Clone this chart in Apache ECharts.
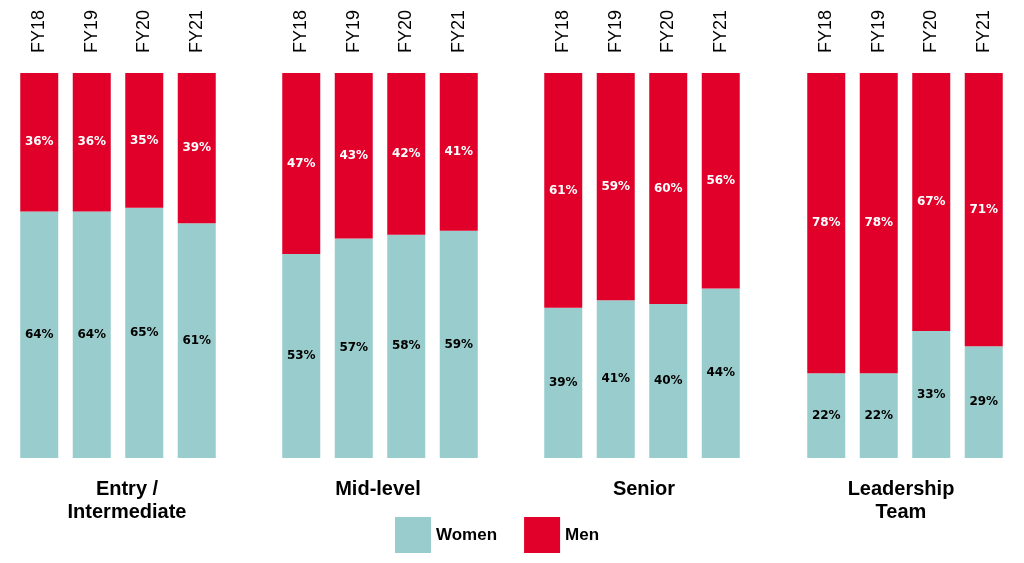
<!DOCTYPE html>
<html>
<head>
<meta charset="utf-8">
<script src="https://cdn.jsdelivr.net/npm/echarts@6/dist/echarts.min.js"></script>
<style>
  html, body { margin: 0; padding: 0; background: #fff; }
  #chart { width: 1024px; height: 563px; }
</style>
</head>
<body>
<div id="chart"></div>
<script>
var years = ['FY18', 'FY19', 'FY20', 'FY21'];
var groups = ['Entry /\nIntermediate', 'Mid-level', 'Senior', 'Leadership\nTeam'];

var womenEntry = [64, 64, 65, 61];
var menEntry = [36, 36, 35, 39];
var womenMid = [53, 57, 58, 59];
var menMid = [47, 43, 42, 41];
var womenSenior = [39, 41, 40, 44];
var menSenior = [61, 59, 60, 56];
var womenLead = [22, 22, 33, 29];
var menLead = [78, 78, 67, 71];

var womenData = [womenEntry, womenMid, womenSenior, womenLead];
var menData = [menEntry, menMid, menSenior, menLead];

var teal = '#99CCCC';
var red = '#E0002A';

var gridLefts = [13, 275, 537, 800];
var titleCenters = [122, 373, 639, 896];

var grids = [], xAxes = [], yAxes = [], series = [], titles = [];

for (var i = 0; i < 4; i++) {
    grids.push({ left: gridLefts[i], top: 73, width: 210, height: 385 });
    xAxes.push({
        type: 'category',
        gridIndex: i,
        position: 'top',
        data: years,
        axisLine: { show: false },
        axisTick: { show: false },
        axisLabel: {
            rotate: 90,
            margin: 20,
            color: '#000',
            fontSize: 18,
            fontFamily: 'Liberation Sans, Arial, sans-serif'
        }
    });
    yAxes.push({
        type: 'value',
        gridIndex: i,
        min: 0,
        max: 100,
        show: false,
        splitLine: { show: false }
    });
    series.push({
        name: 'Women',
        type: 'bar',
        stack: 'g' + i,
        xAxisIndex: i,
        yAxisIndex: i,
        barWidth: 38,
        data: womenData[i],
        itemStyle: { color: teal },
        label: {
            show: true,
            position: 'inside',
            formatter: '{c}%',
            color: '#000',
            fontSize: 12,
            fontWeight: 'bold',
            fontFamily: 'DejaVu Sans, Verdana, sans-serif'
        }
    });
    series.push({
        name: 'Men',
        type: 'bar',
        stack: 'g' + i,
        xAxisIndex: i,
        yAxisIndex: i,
        barWidth: 38,
        data: menData[i],
        itemStyle: { color: red },
        label: {
            show: true,
            position: 'inside',
            formatter: '{c}%',
            color: '#fff',
            fontSize: 12,
            fontWeight: 'bold',
            fontFamily: 'DejaVu Sans, Verdana, sans-serif'
        }
    });
    titles.push({
        text: groups[i],
        left: titleCenters[i],
        top: 473,
        textAlign: 'center',
        textStyle: {
            color: '#000',
            fontSize: 20,
            fontWeight: 'bold',
            lineHeight: 23,
            fontFamily: 'Liberation Sans, Arial, sans-serif'
        }
    });
}

var option = {
    animation: false,
    backgroundColor: '#fff',
    title: titles,
    legend: {
        data: ['Women', 'Men'],
        left: 390,
        top: 512,
        itemWidth: 36,
        itemHeight: 36,
        itemGap: 27,
        icon: 'rect',
        textStyle: {
            color: '#000',
            fontSize: 17,
            fontWeight: 'bold',
            fontFamily: 'Liberation Sans, Arial, sans-serif'
        }
    },
    grid: grids,
    xAxis: xAxes,
    yAxis: yAxes,
    series: series
};

var chart = echarts.init(document.getElementById('chart'));
chart.setOption(option);
</script>
</body>
</html>
